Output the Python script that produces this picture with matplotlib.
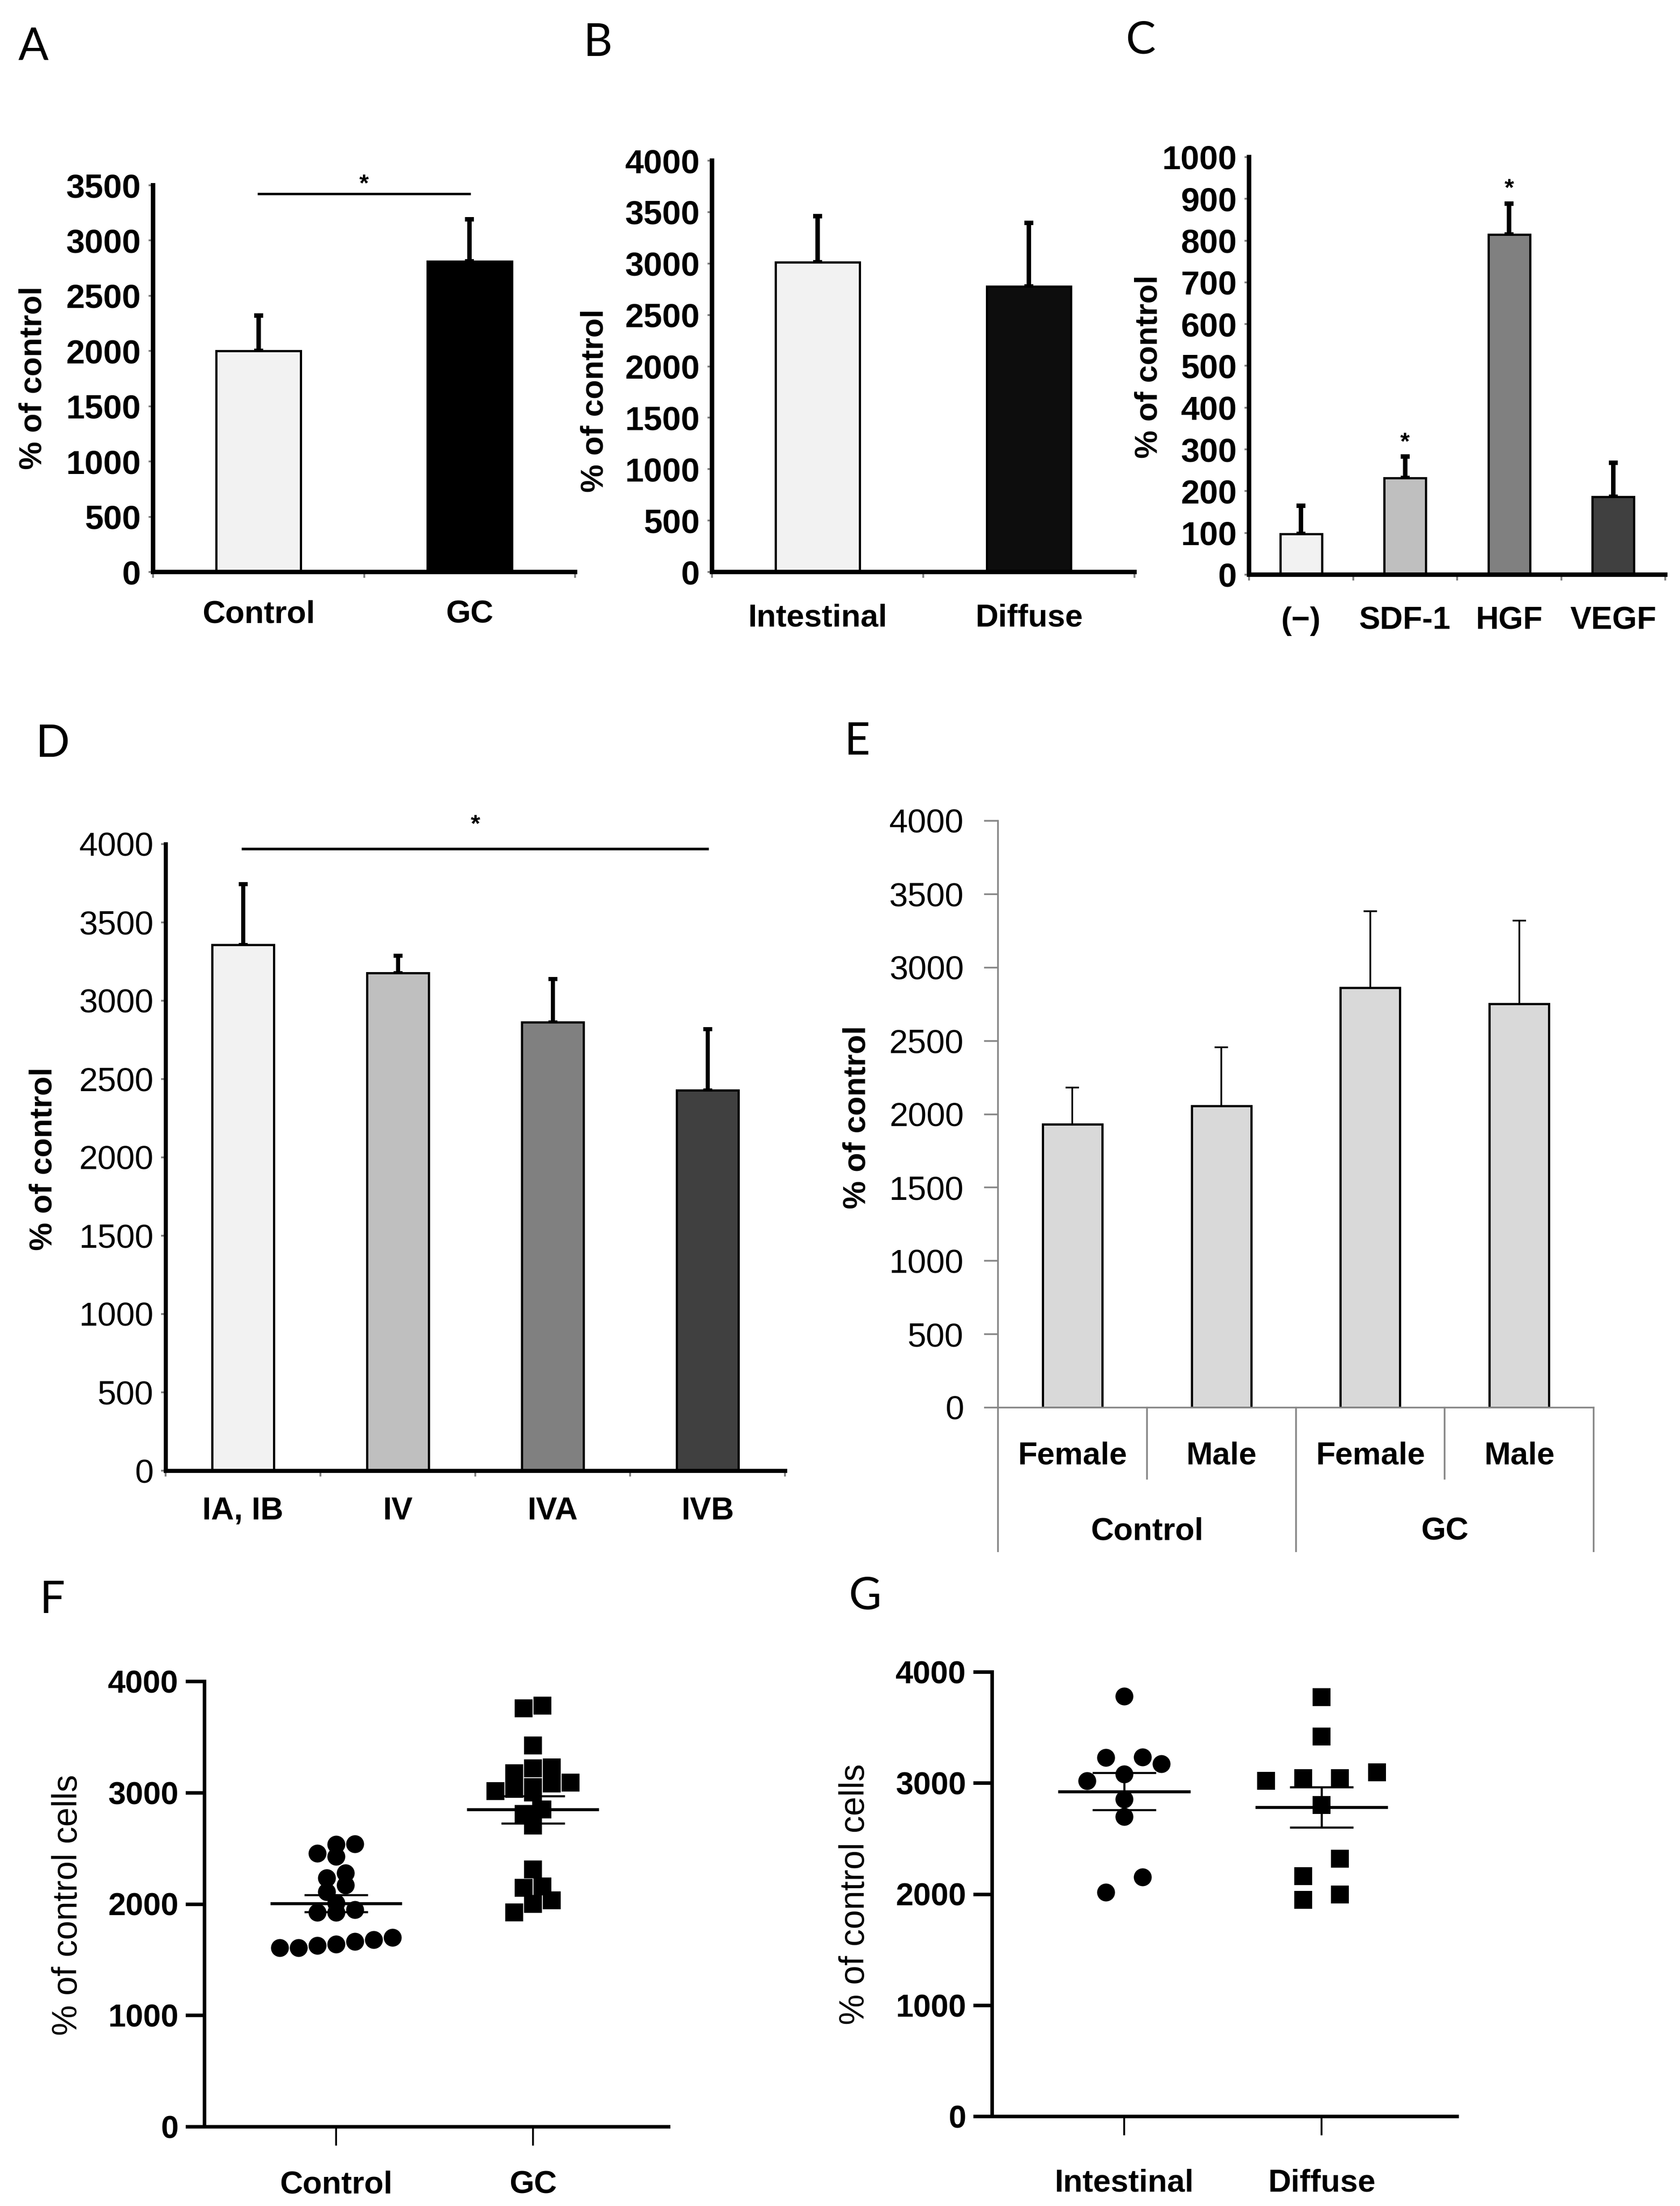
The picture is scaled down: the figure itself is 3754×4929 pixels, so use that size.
import numpy as np
import matplotlib
matplotlib.use("Agg")
import matplotlib.pyplot as plt

plt.rcParams["font.family"] = ["Liberation Sans", "DejaVu Sans"]

# ---- data ----
a_labels = ["Control", "GC"]
a_means = [2000, 2810]
a_errs = [323, 382]
a_colors = ["#f2f2f2", "#000000"]

b_labels = ["Intestinal", "Diffuse"]
b_means = [3014, 2777]
b_errs = [447, 619]
b_colors = ["#f2f2f2", "#0d0d0d"]

c_labels = ["(\u2212)", "SDF-1", "HGF", "VEGF"]
c_means = [97, 231, 815, 187]
c_errs = [68, 52, 74, 81]
c_colors = ["#f2f2f2", "#bfbfbf", "#808080", "#404040"]
c_star_y = [None, 315, 923, None]

d_labels = ["IA, IB", "IV", "IVA", "IVB"]
d_means = [3356, 3176, 2864, 2428]
d_errs = [391, 114, 277, 391]
d_colors = ["#f2f2f2", "#bfbfbf", "#808080", "#404040"]

e_sex = ["Female", "Male", "Female", "Male"]
e_groups = ["Control", "GC"]
e_means = [1932, 2057, 2861, 2751]
e_errs = [250, 398, 524, 570]

f_control = [2456, 2428, 2542, 2536, 2280, 2172, 2234, 2111, 1926, 1926,
             1948, 2009, 1627, 1701, 1639, 1680, 1609, 1664, 1609]
f_gc = [3784, 3760, 3427, 3174, 3220, 3230, 3091, 3035, 3051, 3082, 3005,
        3014, 2850, 2810, 2706, 2311, 2157, 2034, 2148, 2003, 1926]
g_intestinal = [3784, 3174, 3236, 3230, 3082, 3020, 2857, 2697, 2157, 2018]
g_diffuse = [3775, 3421, 3045, 3020, 3045, 3097, 2804, 2320, 2163, 1997, 1948]

sig_a = 3425
sig_d = 3969

# ---- figure ----
W, H, DPI = 3754, 4929, 300
fig = plt.figure(figsize=(W / DPI, H / DPI), dpi=DPI)


def add_ax(x0, x1, ytop, ybot):
    return fig.add_axes([x0 / W, 1 - ybot / H, (x1 - x0) / W, (ybot - ytop) / H])


def ftext(x, y, s, **kw):
    fig.text(x / W, 1 - y / H, s, **kw)


def bar_panel(ax, labels, means, errs, colors, ymax, ystep, bold_y=True,
              spine_lw=2.4, pad_x=15):
    x = np.arange(len(labels)) + 0.5
    ax.bar(x, means, width=0.4, color=colors, edgecolor="black", linewidth=1.2, zorder=2)
    ax.errorbar(x, means, yerr=[np.zeros(len(means)), errs], fmt="none", ecolor="black",
                elinewidth=spine_lw, capsize=2.5, capthick=spine_lw, zorder=1)
    ax.set_xlim(0, len(labels))
    ax.set_ylim(0, ymax)
    ax.set_yticks(np.arange(0, ymax + 1, ystep))
    ax.set_xticks(np.arange(len(labels) + 1))
    ax.set_xticklabels([])
    ax.set_xticks(x, minor=True)
    ax.set_xticklabels(labels, minor=True, fontweight="bold", fontsize=17)
    ax.tick_params(axis="x", which="minor", length=0, pad=pad_x)
    ax.tick_params(axis="x", which="major", length=3, width=1, color="#808080")
    ax.tick_params(axis="y", length=2.5, width=1, color="#808080", pad=4, labelsize=18)
    if bold_y:
        for t in ax.get_yticklabels():
            t.set_fontweight("bold")
    for s in ["top", "right"]:
        ax.spines[s].set_visible(False)
    for s in ["left", "bottom"]:
        ax.spines[s].set_linewidth(spine_lw)
        ax.spines[s].set_zorder(3)


def star(ax, x, y):
    ax.text(x, y, "*", ha="center", va="center", fontsize=13, fontweight="bold",
            clip_on=False)


# A
ax = add_ax(342, 1285, 414, 1278)
bar_panel(ax, a_labels, a_means, a_errs, a_colors, 3500, 500, pad_x=15)
ax.plot([0.5, 1.5], [sig_a, sig_a], color="black", lw=1.3, clip_on=False)
star(ax, 1.0, sig_a + 80)

# B
ax = add_ax(1591, 2535, 359, 1278)
bar_panel(ax, b_labels, b_means, b_errs, b_colors, 4000, 500, pad_x=17)

# C
ax = add_ax(2791, 3721, 351, 1284)
bar_panel(ax, c_labels, c_means, c_errs, c_colors, 1000, 100, pad_x=17)
for i, sy in enumerate(c_star_y):
    if sy is not None:
        star(ax, i + 0.5, sy)

# D
ax = add_ax(370, 1754, 1886, 3286)
bar_panel(ax, d_labels, d_means, d_errs, d_colors, 4000, 500, bold_y=False,
          spine_lw=2.2, pad_x=14)
ax.plot([0.5, 3.5], [sig_d, sig_d], color="black", lw=1.4, clip_on=False)
star(ax, 2.0, sig_d + 150)

# E
ax = add_ax(2230, 3561, 1834, 3145)
xe = np.arange(len(e_sex)) + 0.5
ax.bar(xe, e_means, width=0.4, color="#d9d9d9", edgecolor="black", linewidth=1.2, zorder=2)
ax.errorbar(xe, e_means, yerr=[np.zeros(len(e_means)), e_errs], fmt="none", ecolor="black",
            elinewidth=0.9, capsize=3.7, capthick=0.9, zorder=1)
ax.set_xlim(0, len(e_sex))
ax.set_ylim(0, 4000)
ax.set_yticks(np.arange(0, 4001, 500))
ax.set_xticks([])
ax.tick_params(axis="y", length=7.4, width=0.9, color="#878787", pad=11, labelsize=18)
for s in ["top", "right"]:
    ax.spines[s].set_visible(False)
for s in ["left", "bottom"]:
    ax.spines[s].set_linewidth(0.9)
    ax.spines[s].set_color("#878787")
tr = ax.get_xaxis_transform()
for i in range(len(e_sex) + 1):
    bottom = -0.245 if i % 2 == 0 else -0.121
    ax.plot([i, i], [0, bottom], transform=tr, color="#878787", lw=0.9, clip_on=False)
for i, lab in enumerate(e_sex):
    ax.text(i + 0.5, -0.083, lab, transform=tr, ha="center", va="center",
            fontsize=17, fontweight="bold")
for j, lab in enumerate(e_groups):
    ax.text(2 * j + 1, -0.212, lab, transform=tr, ha="center", va="center",
            fontsize=17, fontweight="bold")


# F and G : column scatter with mean +/- SEM
def swarm_x(center, values, bin_w, step):
    vals = np.asarray(values, dtype=float)
    order = np.argsort(vals, kind="stable")
    bins = np.floor((vals - vals.min()) / bin_w).astype(int)
    x = np.zeros(len(vals))
    for b in np.unique(bins):
        idx = order[bins[order] == b]
        n = len(idx)
        x[idx] = center + (np.arange(n) - (n - 1) / 2) * step
    return x


def scatter_panel(ax, groups, labels, markers, bin_w, step, xlim, pad_x):
    for i, (vals, mk) in enumerate(zip(groups, markers)):
        c = i + 1
        xs = swarm_x(c, vals, bin_w, step)
        ax.plot(xs, vals, linestyle="none", marker=mk, ms=9.6, color="black",
                markeredgewidth=0, zorder=2, clip_on=False)
        m = np.mean(vals)
        sem = np.std(vals, ddof=1) / np.sqrt(len(vals))
        ax.hlines(m, c - 0.335, c + 0.335, color="black", lw=1.6, zorder=3)
        ax.errorbar(c, m, yerr=sem, fmt="none", ecolor="black", elinewidth=1.1,
                    capsize=17, capthick=1.1, zorder=3)
    ax.set_xlim(*xlim)
    ax.set_ylim(0, 4000)
    ax.set_yticks(np.arange(0, 4001, 1000))
    ax.set_xticks([1, 2])
    ax.set_xticklabels(labels, fontsize=17, fontweight="bold")
    ax.tick_params(axis="y", length=10, width=1.9, pad=4, labelsize=17)
    ax.tick_params(axis="x", length=10, width=1.0, pad=pad_x)
    for t in ax.get_yticklabels():
        t.set_fontweight("bold")
    for s in ["top", "right"]:
        ax.spines[s].set_visible(False)
    for s in ["left", "bottom"]:
        ax.spines[s].set_linewidth(1.9)


ax = add_ax(457, 1494, 3757, 4752)
scatter_panel(ax, [f_control, f_gc], ["Control", "GC"], ["o", "s"], 120, 0.0955,
              (0.332, 2.689), 13.5)

ax = add_ax(2217, 3256, 3736, 4729)
scatter_panel(ax, [g_intestinal, g_diffuse], ["Intestinal", "Diffuse"], ["o", "s"], 200, 0.188,
              (0.331, 2.687), 18)

# y labels
for (xx, yy, s) in [(75, 844, "% of control"), (1330, 895, "% of control"),
                    (2568, 819, "% of control"), (98, 2589, "% of control"),
                    (1915, 2496, "% of control")]:
    ftext(xx, yy, s, rotation=90, ha="center", va="center", fontsize=17, fontweight="bold")
ftext(152, 4256, "% of control cells", rotation=90, ha="center", va="center", fontsize=18.5)
ftext(1910, 4233, "% of control cells", rotation=90, ha="center", va="center", fontsize=18.5)

# panel letters
for (xx, yy, s) in [(41, 60, "A"), (1304, 51, "B"), (2515, 46, "C"), (80, 1617, "D"),
                    (1887, 1612, "E"), (89, 3530, "F"), (1896, 3522, "G")]:
    ftext(xx, yy, s, ha="left", va="top", fontsize=24, family=["Lato", "DejaVu Sans"])

fig.savefig("out.png", dpi=DPI, facecolor="white")
